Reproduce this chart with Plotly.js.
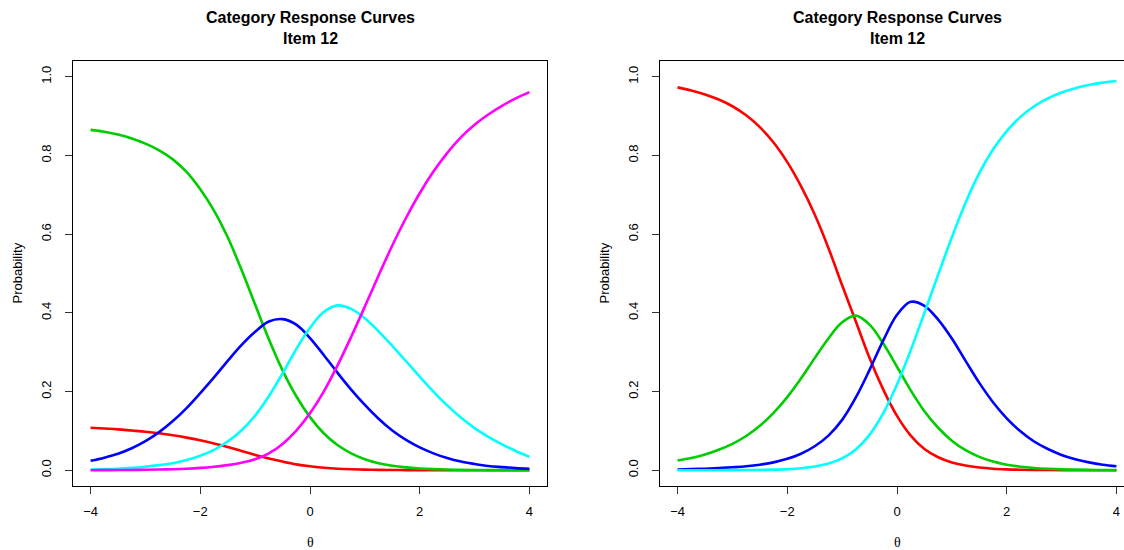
<!DOCTYPE html>
<html>
<head>
<meta charset="utf-8">
<script src="https://cdn.plot.ly/plotly-3.0.1.min.js"></script>
<style>
html,body{margin:0;padding:0;overflow:hidden;background:#fff;}
#chart{width:1160px;height:550px;}
</style>
</head>
<body>
<div id="chart"></div>
<script>
// theta grid (step 0.25)
const theta = [-4,-3.75,-3.5,-3.25,-3,-2.75,-2.5,-2.25,-2,-1.75,-1.5,-1.25,-1,-0.75,-0.5,-0.25,0,
               0.25,0.5,0.75,1,1.25,1.5,1.75,2,2.25,2.5,2.75,3,3.25,3.5,3.75,4];

// Left panel: 5 categories
const leftRed     = [0.108,0.106,0.104,0.101,0.098,0.094,0.089,0.083,0.076,0.068,0.059,0.049,0.039,0.030,0.022,0.015,0.010,
                     0.0065,0.004,0.0025,0.0015,0.001,0.0006,0.0004,0.0002,0.0001,0.0001,0,0,0,0,0,0];
const leftGreen   = [0.865,0.860,0.853,0.843,0.830,0.813,0.790,0.758,0.714,0.660,0.592,0.510,0.421,0.333,0.254,0.188,0.135,
                     0.094,0.064,0.043,0.028,0.018,0.0115,0.0073,0.0046,0.0029,0.0018,0.0011,0.0007,0.0004,0.0003,0.0002,0.0001];
const leftBlue    = [0.024,0.032,0.042,0.056,0.074,0.097,0.125,0.158,0.196,0.236,0.278,0.318,0.352,0.378,0.384,0.370,0.336,
                     0.293,0.248,0.205,0.166,0.131,0.101,0.077,0.058,0.043,0.031,0.022,0.016,0.011,0.008,0.0055,0.004];
const leftCyan    = [0.002,0.003,0.004,0.006,0.009,0.013,0.018,0.026,0.037,0.052,0.073,0.101,0.139,0.188,0.246,0.308,0.362,
                     0.402,0.419,0.410,0.386,0.353,0.316,0.277,0.238,0.200,0.165,0.134,0.107,0.085,0.066,0.049,0.034];
const leftMagenta = [0.0002,0.0003,0.0005,0.0008,0.0012,0.0018,0.0027,0.004,0.006,0.009,0.013,0.019,0.028,0.043,0.067,0.101,0.145,
                     0.200,0.266,0.339,0.416,0.495,0.571,0.641,0.704,0.759,0.806,0.846,0.878,0.904,0.926,0.945,0.961];

// Right panel: 4 categories
const rightRed   = [0.973,0.965,0.955,0.942,0.925,0.902,0.872,0.833,0.783,0.722,0.650,0.565,0.470,0.378,0.285,0.205,0.138,
                    0.088,0.054,0.033,0.020,0.012,0.007,0.004,0.0023,0.0014,0.0008,0.0005,0.0003,0.0002,0.0001,0.0001,0];
const rightGreen = [0.025,0.031,0.040,0.052,0.067,0.087,0.113,0.146,0.186,0.233,0.285,0.335,0.376,0.393,0.370,0.322,0.263,
                    0.203,0.150,0.108,0.075,0.051,0.034,0.022,0.014,0.009,0.0058,0.0037,0.0023,0.0015,0.0009,0.0006,0.0004];
const rightBlue  = [0.002,0.003,0.004,0.0055,0.0075,0.010,0.014,0.020,0.029,0.042,0.061,0.088,0.128,0.185,0.255,0.330,0.395,
                    0.428,0.418,0.383,0.335,0.278,0.222,0.173,0.132,0.099,0.073,0.054,0.039,0.028,0.020,0.014,0.010];
const rightCyan  = [0,0.0001,0.0001,0.0002,0.0003,0.0006,0.001,0.0017,0.003,0.0053,0.0095,0.017,0.030,0.053,0.090,0.145,0.218,
                    0.305,0.400,0.497,0.592,0.680,0.755,0.815,0.862,0.898,0.925,0.945,0.960,0.971,0.979,0.985,0.989];

const yTicks = [0,0.2,0.4,0.6,0.8,1.0];
const yTickText = ["0.0","0.2","0.4","0.6","0.8","1.0"];
const xTicks = [-4,-2,0,2,4];
const xTickText = ["\u22124","\u22122","0","2","4"];
const titleLine1 = "Category Response Curves";
const titleLine2 = "Item 12";
const xLabel = "\u03b8";
const yLabel = "Probability";

const W = 1160, H = 550;
const lw = 2.6;
function tr(y, color, xa, ya){
  return {x: theta, y: y, type:'scatter', mode:'lines', xaxis: xa, yaxis: ya,
    line:{color: color, width: lw, shape:'spline', smoothing:1}, hoverinfo:'none', showlegend:false};
}
const data = [
  tr(leftRed,'#FF0000','x','y'),
  tr(leftGreen,'#00CD00','x','y'),
  tr(leftBlue,'#0000FF','x','y'),
  tr(leftCyan,'#00FFFF','x','y'),
  tr(leftMagenta,'#FF00FF','x','y'),
  tr(rightRed,'#FF0000','x2','y2'),
  tr(rightGreen,'#00CD00','x2','y2'),
  tr(rightBlue,'#0000FF','x2','y2'),
  tr(rightCyan,'#00FFFF','x2','y2')
];

const pbox = {l1:73, r1:547, l2:660, r2:1134, top:61, bottom:486};
const ydom = [(H-pbox.bottom)/H, (H-pbox.top)/H];
const tickFont = {family:'"Liberation Sans", Arial, sans-serif', size:13, color:'#000'};
function xax(dom){
  return {domain: dom, range:[-4.32,4.32], tickvals:xTicks, ticktext:xTickText,
    ticks:'outside', ticklen:7, tickcolor:'#333', tickwidth:1,
    showline:true, mirror:true, linecolor:'#000', linewidth:1,
    showgrid:false, zeroline:false, tickfont:tickFont, ticklabelstandoff:6, fixedrange:true};
}
function yax(anchor){
  return {domain: ydom, range:[-0.04,1.04], tickvals:yTicks, ticktext:yTickText, anchor: anchor,
    ticks:'outside', ticklen:7, tickcolor:'#333', tickwidth:1, tickangle:-90,
    showline:true, mirror:true, linecolor:'#000', linewidth:1,
    showgrid:false, zeroline:false, tickfont:tickFont, ticklabelstandoff:9, fixedrange:true};
}
const titleFont = {family:'"Liberation Sans", Arial, sans-serif', size:16, color:'#000'};
function ann(text, px, py, font, extra){
  return Object.assign({text:text, xref:'paper', yref:'paper', x:px/W, y:1-py/H,
    xanchor:'center', yanchor:'middle', showarrow:false, font:font}, extra||{});
}
const c1 = (pbox.l1+pbox.r1)/2, c2 = (pbox.l2+pbox.r2)/2;
const serif = {family:'"Liberation Serif", "DejaVu Serif", serif', size:14, color:'#000'};
const labFont = {family:'"Liberation Sans", Arial, sans-serif', size:13, color:'#000'};
const annotations = [
  ann('<b>'+titleLine1+'</b>', c1, 18, titleFont),
  ann('<b>'+titleLine2+'</b>', c1, 38, titleFont),
  ann('<b>'+titleLine1+'</b>', c2, 18, titleFont),
  ann('<b>'+titleLine2+'</b>', c2, 38, titleFont),
  ann(xLabel, c1, 542, serif),
  ann(xLabel, c2, 542, serif),
  ann(yLabel, 17, (pbox.top+pbox.bottom)/2, labFont, {textangle:-90}),
  ann(yLabel, 604, (pbox.top+pbox.bottom)/2, labFont, {textangle:-90})
];

const layout = {
  width: W, height: H,
  margin:{l:0,r:0,t:0,b:0,pad:0},
  paper_bgcolor:'#fff', plot_bgcolor:'#fff',
  xaxis: Object.assign(xax([pbox.l1/W, pbox.r1/W]), {anchor:'y'}),
  yaxis: yax('x'),
  xaxis2: Object.assign(xax([pbox.l2/W, pbox.r2/W]), {anchor:'y2'}),
  yaxis2: yax('x2'),
  annotations: annotations,
  showlegend:false
};
Plotly.newPlot('chart', data, layout, {staticPlot:true, displayModeBar:false});
</script>
</body>
</html>
